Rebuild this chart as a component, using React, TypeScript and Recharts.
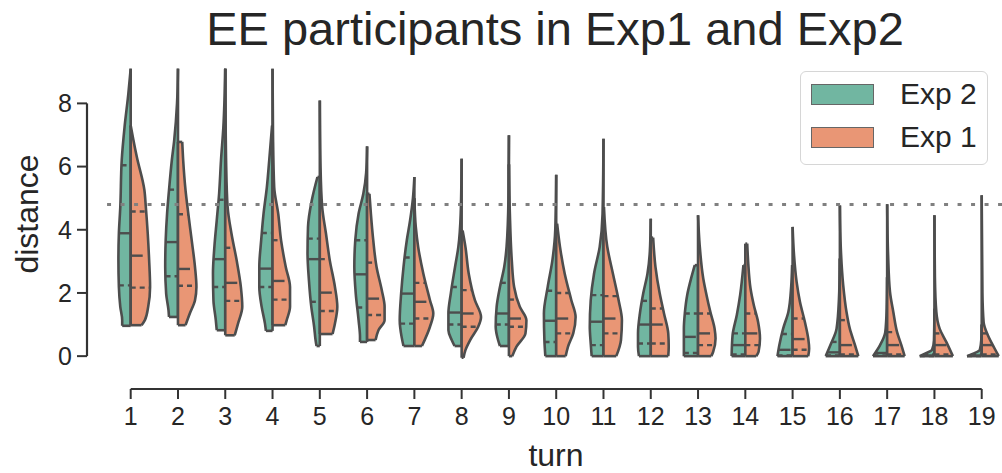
import { ComposedChart, Area, XAxis, YAxis, ReferenceLine, Label } from 'recharts'

// turn numbers on the x axis
const turns = [1, 2, 3, 4, 5, 6, 7, 8, 9, 10, 11, 12, 13, 14, 15, 16, 17, 18, 19]
const yTicks = [0, 2, 4, 6, 8]
const threshold = 4.8

// half-violin outlines, [distance, half width in turn units], bottom to top
const exp2Shape: number[][][] = [
  [[0.96, 0.18], [1.14, 0.18], [1.56, 0.22], [2.19, 0.25], [3.04, 0.26], [3.89, 0.25], [4.72, 0.22], [6.2, 0.19], [7.25, 0.13], [8.3, 0.05], [9.1, 0]],
  [[1.24, 0.19], [1.45, 0.2], [1.98, 0.25], [2.82, 0.27], [3.67, 0.26], [4.52, 0.23], [5.25, 0.19], [6.2, 0.13], [6.83, 0.08], [8.0, 0.02], [9.1, 0]],
  [[0.82, 0.18], [1.14, 0.2], [1.77, 0.25], [2.61, 0.26], [3.46, 0.23], [4.3, 0.18], [5.14, 0.13], [6.2, 0.09], [7.25, 0.04], [9.1, 0]],
  [[0.8, 0.14], [1.03, 0.16], [1.56, 0.23], [2.19, 0.28], [2.82, 0.28], [3.67, 0.24], [4.51, 0.19], [5.35, 0.12], [6.2, 0.07], [7.3, 0.01]],
  [[0.32, 0.07], [0.51, 0.09], [0.93, 0.12], [1.56, 0.18], [2.4, 0.23], [3.25, 0.26], [4.09, 0.25], [4.93, 0.17], [5.67, 0.05]],
  [[0.45, 0.15], [0.61, 0.15], [1.14, 0.18], [1.98, 0.24], [2.82, 0.27], [3.67, 0.25], [4.51, 0.18], [5.14, 0.08], [5.8, 0.02], [6.64, 0]],
  [[0.32, 0.23], [0.61, 0.27], [1.14, 0.31], [1.98, 0.28], [2.82, 0.23], [3.67, 0.16], [4.3, 0.09], [5.0, 0.03], [5.67, 0]],
  [[0.32, 0.15], [0.51, 0.21], [0.82, 0.28], [1.35, 0.28], [1.98, 0.23], [2.82, 0.14], [3.46, 0.07], [4.5, 0.02], [6.25, 0]],
  [[0.32, 0.19], [0.51, 0.23], [0.93, 0.28], [1.56, 0.26], [2.19, 0.19], [2.82, 0.1], [3.46, 0.05], [5.0, 0.01], [6.99, 0]],
  [[0, 0.23], [0.51, 0.25], [1.35, 0.26], [2.19, 0.18], [3.04, 0.08], [4.0, 0.02], [5.74, 0]],
  [[0, 0.25], [0.4, 0.27], [0.93, 0.29], [1.77, 0.27], [2.61, 0.2], [3.46, 0.08], [4.5, 0.02], [6.88, 0]],
  [[0, 0.25], [0.3, 0.27], [0.72, 0.27], [1.35, 0.23], [1.98, 0.16], [2.61, 0.07], [3.3, 0.02], [4.35, 0]],
  [[0, 0.3], [0.87, 0.3], [1.35, 0.28], [1.93, 0.23], [2.5, 0.14], [2.88, 0.07]],
  [[0, 0.29], [0.66, 0.27], [1.3, 0.18], [1.93, 0.11], [2.88, 0.04]],
  [[0, 0.32], [0.35, 0.28], [0.87, 0.2], [1.4, 0.09], [2.2, 0.03], [2.88, 0.01]],
  [[0, 0.3], [0.35, 0.2], [0.87, 0.07], [1.8, 0.02], [3.09, 0]],
  [[0, 0.3], [0.35, 0.15], [0.76, 0.04], [1.5, 0.01], [2.5, 0]],
  [[0, 0.31], [0.08, 0.2], [0.2, 0.05], [0.5, 0.01], [1.5, 0]],
  [[0, 0.31], [0.08, 0.18], [0.2, 0.04], [0.5, 0.01], [1.0, 0]],
]

const exp1Shape: number[][][] = [
  [[0.98, 0.23], [1.14, 0.3], [1.56, 0.37], [2.19, 0.41], [3.04, 0.39], [3.89, 0.36], [4.72, 0.32], [5.25, 0.29], [6.3, 0.13], [6.9, 0.05], [7.3, 0]],
  [[0.98, 0.16], [1.35, 0.25], [1.77, 0.36], [2.19, 0.39], [2.82, 0.36], [3.67, 0.29], [4.49, 0.22], [5.25, 0.16], [6.2, 0.11], [6.78, 0.09]],
  [[0.66, 0.2], [1.03, 0.27], [1.56, 0.36], [2.19, 0.33], [3.04, 0.24], [3.89, 0.13], [4.72, 0.05], [6.0, 0.02], [9.1, 0]],
  [[0.98, 0.27], [1.14, 0.3], [1.56, 0.37], [2.19, 0.37], [2.82, 0.28], [3.67, 0.18], [4.51, 0.12], [5.35, 0.035], [7.0, 0.01], [9.1, 0]],
  [[0.7, 0.27], [1.03, 0.32], [1.56, 0.37], [2.19, 0.32], [3.04, 0.21], [3.88, 0.13], [4.72, 0.05], [6.0, 0.015], [8.09, 0]],
  [[0.51, 0.18], [0.82, 0.24], [1.14, 0.37], [1.56, 0.37], [2.09, 0.31], [2.82, 0.2], [3.67, 0.13], [4.51, 0.08], [5.14, 0.05]],
  [[0.32, 0.16], [0.93, 0.33], [1.35, 0.4], [1.77, 0.33], [2.61, 0.19], [3.46, 0.08], [4.09, 0.03], [5.0, 0]],
  [[-0.05, 0.04], [0.19, 0.08], [0.51, 0.18], [0.93, 0.35], [1.24, 0.41], [1.77, 0.28], [2.61, 0.15], [3.46, 0.08], [3.98, 0.02]],
  [[0, 0.07], [0.3, 0.16], [0.72, 0.35], [1.14, 0.37], [1.56, 0.23], [2.19, 0.11], [3.04, 0.06], [4.5, 0.02], [6.07, 0]],
  [[0, 0.2], [0.3, 0.25], [0.72, 0.36], [1.24, 0.41], [1.77, 0.32], [2.61, 0.18], [3.46, 0.08], [4.19, 0.02]],
  [[0, 0.27], [0.51, 0.37], [1.14, 0.39], [1.77, 0.32], [2.61, 0.2], [3.46, 0.08], [4.72, 0.01]],
  [[0, 0.37], [0.3, 0.38], [0.72, 0.37], [1.35, 0.28], [1.98, 0.19], [2.82, 0.1], [3.75, 0.05]],
  [[0, 0.28], [0.14, 0.32], [0.56, 0.37], [0.87, 0.35], [1.4, 0.26], [1.93, 0.18], [2.46, 0.11], [3.5, 0.035], [4.46, 0]],
  [[0, 0.23], [0.14, 0.28], [0.56, 0.31], [1.08, 0.27], [1.61, 0.18], [2.14, 0.11], [2.98, 0.06], [3.56, 0.04]],
  [[0, 0.33], [0.24, 0.35], [0.56, 0.33], [1.08, 0.26], [1.72, 0.155], [2.35, 0.085], [3.2, 0.03], [4.09, 0]],
  [[0, 0.39], [0.35, 0.32], [0.87, 0.21], [1.4, 0.14], [2.25, 0.07], [3.4, 0.02], [4.77, 0]],
  [[0, 0.37], [0.35, 0.3], [0.76, 0.21], [1.4, 0.13], [2.03, 0.06], [3.2, 0.02], [4.81, 0]],
  [[0, 0.39], [0.45, 0.25], [0.87, 0.11], [1.4, 0.04], [2.5, 0.01], [4.46, 0]],
  [[0, 0.36], [0.25, 0.27], [0.66, 0.13], [1.08, 0.04], [2.0, 0.015], [5.09, 0]],
]

// [q1, median, q3]
const exp2Quartiles = [
  [2.24, 3.89, 6.04], [2.53, 3.61, 5.27], [2.19, 3.07, 4.95], [2.19, 2.77, 3.9], [1.72, 3.07, 3.72],
  [1.54, 2.59, 3.67], [1.03, 1.98, 3.12], [1.0, 1.38, 2.19], [1.0, 1.35, 2.32], [0.45, 1.12, 2.07],
  [0.35, 1.09, 1.93], [0.4, 1.0, 1.75], [0.1, 0.61, 1.35], [0.05, 0.35, 0.72], [0.02, 0.2, 0.7],
  [0.02, 0.12, 0.45], [0.02, 0.1, 0.76], [0, 0.02, 0.05], [0, 0.02, 0.05],
]
const exp1Quartiles = [
  [2.17, 3.18, 4.58], [2.23, 2.76, 4.49], [1.75, 2.32, 3.43], [1.79, 2.38, 3.67], [1.43, 2.01, 3.07],
  [1.3, 1.82, 2.96], [1.19, 1.72, 2.32], [0.93, 1.35, 2.09], [0.93, 1.19, 1.79], [0.72, 1.19, 2.0],
  [0.72, 1.19, 1.9], [0.4, 1.0, 1.51], [0.35, 0.72, 1.35], [0.35, 0.72, 1.35], [0.2, 0.54, 1.19],
  [0.05, 0.35, 1.14], [0.05, 0.35, 0.76], [0.05, 0.35, 0.72], [0.05, 0.35, 0.72],
]

const GREEN = '#71b6a1'
const ORANGE = '#e99675'
const EDGE = '#4d4d4d'
const TEXT = '#262626'
const FONT = '"Liberation Sans", Arial, sans-serif'

const X_MIN = 0.0757
const X_MAX = 19.429
const Y_MIN = -1.04
const Y_MAX = 9.5

const widthAt = (profile: number[][], y: number) => {
  if (y <= profile[0][0]) return profile[0][1]
  for (let i = 1; i < profile.length; i++) {
    const [y1, w1] = profile[i]
    const [y0, w0] = profile[i - 1]
    if (y <= y1) return w0 + ((w1 - w0) * (y - y0)) / (y1 - y0)
  }
  return profile[profile.length - 1][1]
}

const halves = turns.flatMap((t, i) => [
  { key: `e2-${t}`, side: -1, t, profile: exp2Shape[i], q: exp2Quartiles[i], fill: GREEN },
  { key: `e1-${t}`, side: 1, t, profile: exp1Shape[i], q: exp1Quartiles[i], fill: ORANGE },
])

const seg = (t: number, side: number, w: number, y: number) =>
  side < 0 ? [{ x: t - w, y }, { x: t, y }] : [{ x: t, y }, { x: t + w, y }]

export default function App() {
  return (
    <div style={{ position: 'absolute', left: 0, top: 0, width: 1002, height: 473, background: '#fff', fontFamily: FONT }}>
      <div style={{ position: 'absolute', left: 155, top: 5, width: 800, textAlign: 'center', fontSize: 47, lineHeight: '47px', color: TEXT }}>
        EE participants in Exp1 and Exp2
      </div>
      <ComposedChart layout="vertical" width={1002} height={473} margin={{ top: 56, right: 0, bottom: 0, left: 0 }}>
        <XAxis
          type="number"
          domain={[X_MIN, X_MAX]}
          allowDataOverflow
          ticks={turns}
          interval={0}
          height={84}
          axisLine={false}
          tickLine={{ stroke: '#333', strokeWidth: 2 }}
          tickSize={10}
          tickMargin={8}
          tick={{ fill: TEXT, fontSize: 25, fontFamily: FONT }}
        >
          <Label
            content={() => (
              <text x={556} y={466} textAnchor="middle" fill={TEXT} fontSize={32} fontFamily={FONT}>
                turn
              </text>
            )}
          />
        </XAxis>
        <YAxis
          type="number"
          dataKey="y"
          domain={[Y_MIN, Y_MAX]}
          allowDataOverflow
          reversed
          ticks={yTicks}
          width={87}
          axisLine={false}
          tickLine={{ stroke: '#333', strokeWidth: 2 }}
          tickSize={10}
          tickMargin={5}
          tick={{ fill: TEXT, fontSize: 25, fontFamily: FONT }}
        >
          <Label
            content={() => (
              <text x={27} y={214} transform="rotate(-90 27 214)" textAnchor="middle" dominantBaseline="central" fill={TEXT} fontSize={32} fontFamily={FONT}>
                distance
              </text>
            )}
          />
        </YAxis>

        {halves.map(h => (
          <Area
            key={h.key}
            data={h.profile.map(([y, w]) => ({ y, x: h.side < 0 ? [h.t - w, h.t] : [h.t, h.t + w] }))}
            dataKey="x"
            type="monotone"
            fill={h.fill}
            fillOpacity={1}
            stroke={EDGE}
            strokeWidth={2.6}
            dot={false}
            activeDot={false}
            isAnimationActive={false}
          />
        ))}

        {halves.map(h => {
          const first = h.profile[0]
          const last = h.profile[h.profile.length - 1]
          return [
            <ReferenceLine key={`${h.key}-b`} segment={seg(h.t, h.side, first[1], first[0])} stroke={EDGE} strokeWidth={2.6} ifOverflow="visible" />,
            last[1] > 0.005 ? (
              <ReferenceLine key={`${h.key}-t`} segment={seg(h.t, h.side, last[1], last[0])} stroke={EDGE} strokeWidth={2.6} ifOverflow="visible" />
            ) : null,
            ...h.q.map((qv, j) => (
              <ReferenceLine
                key={`${h.key}-q${j}`}
                segment={seg(h.t, h.side, widthAt(h.profile, qv), qv)}
                stroke={EDGE}
                strokeWidth={2.4}
                strokeDasharray={j === 1 ? '12 8' : '5 4'}
                ifOverflow="visible"
              />
            )),
          ]
        })}

        <ReferenceLine
          segment={[{ x: 0.5, y: threshold }, { x: X_MAX, y: threshold }]}
          stroke="#808080"
          strokeWidth={3}
          strokeDasharray="4 9.5"
          ifOverflow="visible"
        />
        <ReferenceLine segment={[{ x: X_MIN, y: 0 }, { x: X_MIN, y: 8 }]} stroke="#333" strokeWidth={2.2} ifOverflow="visible" />
        <ReferenceLine segment={[{ x: 1, y: Y_MIN }, { x: 19, y: Y_MIN }]} stroke="#333" strokeWidth={2.2} ifOverflow="visible" />
      </ComposedChart>

      <div
        style={{
          position: 'absolute', left: 800, top: 71, width: 188, height: 94, boxSizing: 'border-box',
          border: '1.5px solid #d6d6d6', borderRadius: 6, background: 'rgba(255,255,255,0.85)',
        }}
      >
        {[{ name: 'Exp 2', color: GREEN, top: 12 }, { name: 'Exp 1', color: ORANGE, top: 55 }].map(item => (
          <div key={item.name}>
            <div
              style={{
                position: 'absolute', left: 10, top: item.top, width: 63, height: 21, boxSizing: 'border-box',
                background: item.color, border: '1.5px solid #666',
              }}
            />
            <div style={{ position: 'absolute', left: 99, top: item.top - 5, fontSize: 30, lineHeight: '30px', color: TEXT }}>
              {item.name}
            </div>
          </div>
        ))}
      </div>
    </div>
  )
}
